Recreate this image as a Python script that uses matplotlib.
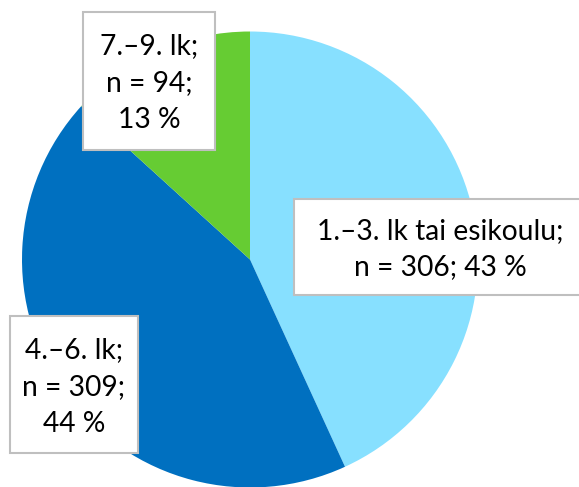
import matplotlib
matplotlib.use("Agg")
import matplotlib.pyplot as plt
from matplotlib.patches import Rectangle

categories = ["1.–3. lk tai esikoulu", "4.–6. lk", "7.–9. lk"]
counts = [306, 309, 94]
percents = [43, 44, 13]
colors = ["#87E0FF", "#0070C0", "#66CC33"]

W, H = 579, 487
fig = plt.figure(figsize=(W / 100, H / 100), dpi=100)
ax = fig.add_axes([0, 0, 1, 1])

cx, cy, r = 250, H - 259.5, 228
ax.pie(counts, colors=colors, startangle=90, counterclock=False,
       center=(cx, cy), radius=r, frame=True,
       wedgeprops=dict(linewidth=0))
ax.set_xlim(0, W)
ax.set_ylim(0, H)
ax.set_aspect("equal")
ax.axis("off")

labels = [
    f"{categories[0]};\nn = {counts[0]}; {percents[0]} %",
    f"{categories[1]};\nn = {counts[1]};\n{percents[1]} %",
    f"{categories[2]};\nn = {counts[2]};\n{percents[2]} %",
]
# boxes: (x0, y_top, x1, y_bottom) in pixels from top-left, plus text center
boxes = [
    ((294, 199, 590, 295), (440, 249)),
    ((10, 316, 138, 453), (74, 387)),
    ((83, 12, 215, 150), (149, 83)),
]
for lab, (b, tc) in zip(labels, boxes):
    x0, y0, x1, y1 = b
    ax.add_patch(Rectangle((x0, H - y1), x1 - x0, y1 - y0, facecolor="white",
                           edgecolor="#BFBFBF", linewidth=1.5, zorder=3))
    ax.text(tc[0], H - tc[1], lab, ha="center", va="center", fontsize=20.3,
            family="Lato", linespacing=1.5, zorder=4, color="black")

fig.savefig("out.png", dpi=100)
